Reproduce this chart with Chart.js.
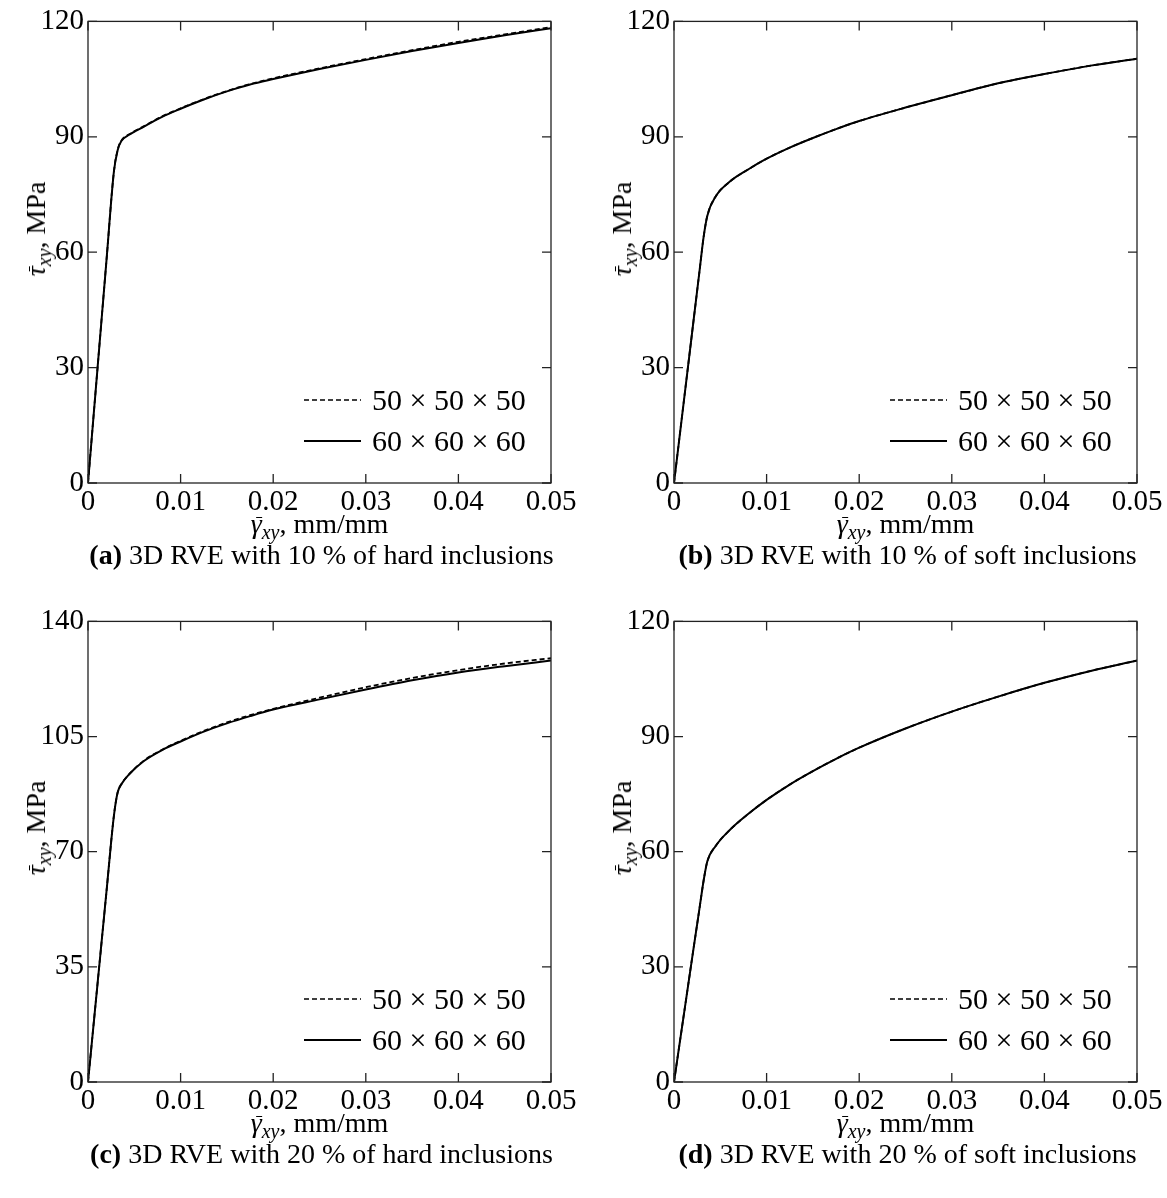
<!DOCTYPE html>
<html>
<head>
<meta charset="utf-8">
<script src="https://cdn.jsdelivr.net/npm/chart.js@4.4.0/dist/chart.umd.min.js"></script>
<style>
  body { margin: 0; background: #fff; width: 1167px; height: 1198px; position: relative; overflow: hidden; font-family: "Liberation Serif", serif; color: #000; }
  .panel { position: absolute; }
  .txt { position: absolute; white-space: nowrap; font-size: 28px; line-height: 1; }
  .txt sub { font-size: 20px; vertical-align: -6px; line-height: 0; }
  .bar { position: relative; display: inline-block; }
  .bar::before { content: ''; position: absolute; left: 5px; right: 0px; top: 7px; border-top: 1.6px solid #000; }
  .ytitle { transform: translate(-50%, -50%) rotate(-90deg); }
  .xtitle, .caption { transform: translate(-50%, -50%); }
  .legend { position: absolute; font-size: 30px; line-height: 1; }
  .legend div { height: 41px; display: flex; align-items: center; white-space: nowrap; }
  .legend svg { margin-right: 11px; }
</style>
</head>
<body>
<canvas id="cA" class="panel"></canvas>
<canvas id="cB" class="panel"></canvas>
<canvas id="cC" class="panel"></canvas>
<canvas id="cD" class="panel"></canvas>
<script>
// deformación (mm/mm)
const strain = [0, 0.001, 0.002, 0.0028, 0.0032, 0.0036, 0.0045, 0.006, 0.008, 0.01,
    0.0125, 0.015, 0.0175, 0.02, 0.025, 0.03, 0.035, 0.04, 0.045, 0.05];

// (a) 10 % inclusiones duras
const hard10_50 = [0, 29, 58, 81, 86.6, 89, 90.7, 92.7, 95.3, 97.4, 99.8, 101.9, 103.7, 105.2, 107.8, 110.2, 112.5, 114.7, 116.6, 118.5];
const hard10_60 = [0, 29, 58, 81, 86.5, 88.9, 90.6, 92.6, 95.2, 97.3, 99.7, 101.8, 103.6, 105.0, 107.6, 110.0, 112.3, 114.4, 116.4, 118.2];
// (b) 10 % inclusiones blandas
const soft10_50 = [0, 20, 40, 56, 64, 69.5, 74.5, 78.3, 81.5, 84.3, 87.2, 89.7, 92.0, 94.1, 97.6, 100.8, 103.9, 106.3, 108.5, 110.3];
const soft10_60 = [0, 20, 40, 56, 64, 69.5, 74.5, 78.3, 81.5, 84.3, 87.2, 89.7, 92.0, 94.1, 97.6, 100.8, 103.9, 106.3, 108.5, 110.3];
// (c) 20 % inclusiones duras
const hard20_50 = [0, 29, 58, 81, 88, 90.5, 93.7, 97.6, 101.0, 103.7, 106.7, 109.3, 111.5, 113.4, 116.8, 120.0, 122.8, 125.2, 127.2, 128.8];
const hard20_60 = [0, 29, 58, 81, 88, 90.5, 93.7, 97.5, 100.9, 103.5, 106.5, 109.0, 111.2, 113.2, 116.3, 119.3, 122.1, 124.5, 126.4, 128.1];
// (d) 20 % inclusiones blandas
const soft20_50 = [0, 16.5, 33, 46, 52.5, 57.5, 61.5, 65.6, 69.8, 73.5, 77.5, 81.0, 84.2, 87.1, 92.1, 96.5, 100.4, 104.0, 107.1, 109.8];
const soft20_60 = [0, 16.5, 33, 46, 52.5, 57.5, 61.5, 65.6, 69.8, 73.5, 77.5, 81.0, 84.2, 87.1, 92.1, 96.5, 100.4, 104.0, 107.1, 109.8];

const seriesLabels = ['50 × 50 × 50', '60 × 60 × 60'];
const yTicksA = [0, 30, 60, 90, 120];
const yTicksC = [0, 35, 70, 105, 140];
const xTicks = [0, 0.01, 0.02, 0.03, 0.04, 0.05];

const captions = [
    ['(a)', '3D RVE with 10 % of hard inclusions'],
    ['(b)', '3D RVE with 10 % of soft inclusions'],
    ['(c)', '3D RVE with 20 % of hard inclusions'],
    ['(d)', '3D RVE with 20 % of soft inclusions']
];

Chart.defaults.font.family = '"Liberation Serif", serif';
Chart.defaults.font.size = 29;
Chart.defaults.color = '#000';

// ticks hacia dentro y marco completo
const marcoPlugin = {
    id: 'marco',
    afterDraw(chart) {
        const { ctx, chartArea: a, scales } = chart;
        ctx.save();
        ctx.strokeStyle = '#222';
        ctx.lineWidth = 1.3;
        ctx.strokeRect(a.left, a.top, a.right - a.left, a.bottom - a.top);
        const len = 9;
        ctx.beginPath();
        scales.x.ticks.forEach((t, i) => {
            const px = scales.x.getPixelForTick(i);
            ctx.moveTo(px, a.bottom); ctx.lineTo(px, a.bottom - len);
            ctx.moveTo(px, a.top); ctx.lineTo(px, a.top + len);
        });
        scales.y.ticks.forEach((t, i) => {
            const py = scales.y.getPixelForTick(i);
            ctx.moveTo(a.left, py); ctx.lineTo(a.left + len, py);
            ctx.moveTo(a.right, py); ctx.lineTo(a.right - len, py);
        });
        ctx.stroke();
        ctx.restore();
    }
};

function crearPanel(id, box, serie50, serie60, yTicks) {
    const canvas = document.getElementById(id);
    canvas.style.left = box.left + 'px';
    canvas.style.top = box.top + 'px';
    canvas.width = box.width;
    canvas.height = box.height;

    const puntos = arr => strain.map((x, i) => ({ x: x, y: arr[i] }));

    new Chart(canvas.getContext('2d'), {
        type: 'line',
        data: {
            datasets: [
                {
                    label: seriesLabels[0],
                    data: puntos(serie50),
                    borderColor: '#000',
                    borderWidth: 1.8,
                    borderDash: [5, 3],
                    pointRadius: 0,
                    cubicInterpolationMode: 'monotone'
                },
                {
                    label: seriesLabels[1],
                    data: puntos(serie60),
                    borderColor: '#000',
                    borderWidth: 2,
                    pointRadius: 0,
                    cubicInterpolationMode: 'monotone'
                }
            ]
        },
        options: {
            responsive: false,
            animation: false,
            events: [],
            layout: { padding: { left: 0, top: box.padTop, right: box.padRight, bottom: 0 } },
            plugins: { legend: { display: false }, tooltip: { enabled: false } },
            scales: {
                x: {
                    type: 'linear',
                    min: 0,
                    max: 0.05,
                    afterBuildTicks: s => { s.ticks = xTicks.map(v => ({ value: v })); },
                    ticks: { padding: 2, maxRotation: 0, autoSkip: false, callback: v => String(+v.toFixed(2)) },
                    grid: { display: false, drawOnChartArea: false, tickLength: 0 },
                    border: { display: false },
                    afterFit: s => { s.height = box.xAxisHeight; }
                },
                y: {
                    type: 'linear',
                    min: yTicks[0],
                    max: yTicks[yTicks.length - 1],
                    afterBuildTicks: s => { s.ticks = yTicks.map(v => ({ value: v })); },
                    ticks: { padding: 4, autoSkip: false },
                    grid: { display: false, drawOnChartArea: false, tickLength: 0 },
                    border: { display: false },
                    afterFit: s => { s.width = 88; }
                }
            }
        },
        plugins: [marcoPlugin]
    });
}

const cajas = [
    { left: 0,   top: 0,   width: 583, height: 520, padTop: 19, padRight: 32, xAxisHeight: 37 },
    { left: 586, top: 0,   width: 581, height: 520, padTop: 19, padRight: 30, xAxisHeight: 37 },
    { left: 0,   top: 600, width: 583, height: 520, padTop: 18, padRight: 32, xAxisHeight: 38 },
    { left: 586, top: 600, width: 581, height: 520, padTop: 18, padRight: 30, xAxisHeight: 38 }
];

crearPanel('cA', cajas[0], hard10_50, hard10_60, yTicksA);
crearPanel('cB', cajas[1], soft10_50, soft10_60, yTicksA);
crearPanel('cC', cajas[2], hard20_50, hard20_60, yTicksC);
crearPanel('cD', cajas[3], soft20_50, soft20_60, yTicksA);

// textos: títulos de ejes, leyendas y pies de figura
function texto(html, cls, x, y) {
    const d = document.createElement('div');
    d.className = 'txt ' + cls;
    d.style.left = x + 'px';
    d.style.top = y + 'px';
    d.innerHTML = html;
    document.body.appendChild(d);
}

function leyenda(x, y) {
    const l = document.createElement('div');
    l.className = 'legend';
    l.style.left = x + 'px';
    l.style.top = y + 'px';
    l.innerHTML =
        '<div><svg width="57" height="4"><line x1="0" y1="2" x2="57" y2="2" stroke="#000" stroke-width="1.6" stroke-dasharray="5,3"/></svg>' + seriesLabels[0] + '</div>' +
        '<div><svg width="57" height="4"><line x1="0" y1="2" x2="57" y2="2" stroke="#000" stroke-width="2"/></svg>' + seriesLabels[1] + '</div>';
    document.body.appendChild(l);
}

const yTitulo = '<span class="bar"><i>τ</i></span><sub><i>xy</i></sub>, MPa';
const xTitulo = '<span class="bar"><i>γ</i></span><sub><i>xy</i></sub>, mm/mm';

[[0, 0], [586, 0], [0, 600], [586, 600]].forEach(([ox, oy], i) => {
    const top = i < 2 ? 19 : 618;
    const bottom = i < 2 ? 483 : 1082;
    const cx = ox + 88 + 463 / 2;
    texto(yTitulo, 'ytitle', ox + 36, (top + bottom) / 2 - 22);
    texto(xTitulo, 'xtitle', cx, bottom + 41);
    texto('<b>' + captions[i][0] + '</b> ' + captions[i][1], 'caption', cx + 2, bottom + 72);
    leyenda(ox + 304, bottom - 104);
});
</script>
</body>
</html>
